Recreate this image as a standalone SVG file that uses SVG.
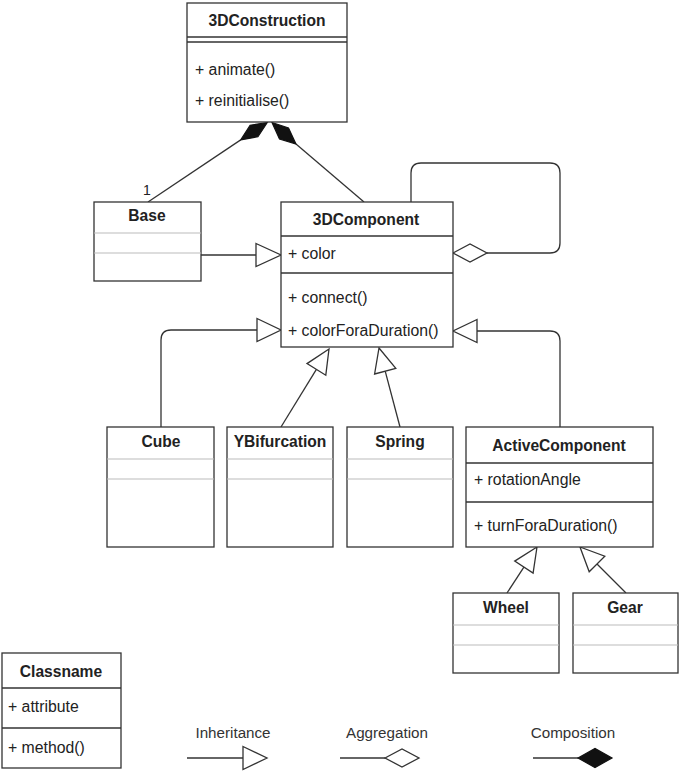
<svg xmlns="http://www.w3.org/2000/svg" width="685" height="773" viewBox="0 0 685 773">
<style>
.box{fill:#fff;stroke:#333;stroke-width:1.3}
.sep{stroke:#333;stroke-width:1.3}
.gsep{stroke:#bbb;stroke-width:1.2}
.t{font-family:"Liberation Sans",Arial,sans-serif;font-size:15.6px;fill:#222;font-weight:bold;text-anchor:middle}
.m{font-family:"Liberation Sans",Arial,sans-serif;font-size:15.8px;fill:#222}
.lg{font-family:"Liberation Sans",Arial,sans-serif;font-size:15.2px;fill:#333;text-anchor:middle}
.ln{fill:none;stroke:#333;stroke-width:1.3}
.tri{fill:#fff;stroke:#333;stroke-width:1.3;stroke-linejoin:miter}
.dia{fill:#fff;stroke:#333;stroke-width:1.3}
.cdia{fill:#111;stroke:#111;stroke-width:1.2}
</style>
<rect width="685" height="773" fill="#fff"/>

<g id="connectors">
  <!-- Base -> 3DComponent -->
  <line class="ln" x1="201" y1="255" x2="256" y2="255"/>
  <polygon class="tri" points="256,243.5 281,255 256,266.5"/>
  <!-- Cube -> 3DComponent -->
  <path class="ln" d="M161,427 V340 Q161,330 171,330 H257"/>
  <polygon class="tri" points="257,318.5 281,330 257,341.5"/>
  <!-- YBifurcation -> 3DComponent -->
  <line class="ln" x1="281" y1="427" x2="316.4" y2="369.4"/>
  <polygon class="tri" points="329,349 325.8,375.2 307,363.6"/>
  <!-- Spring -> 3DComponent -->
  <line class="ln" x1="400" y1="427" x2="385.2" y2="371.2"/>
  <polygon class="tri" points="379,348 395.8,368.4 374.6,374"/>
  <!-- ActiveComponent -> 3DComponent -->
  <path class="ln" d="M560,427 V341 Q560,331 550,331 H477"/>
  <polygon class="tri" points="477,319.5 453,331 477,342.5"/>
  <!-- self aggregation -->
  <path class="ln" d="M411,202 V173 Q411,163 421,163 H550 Q560,163 560,173 V243 Q560,253 550,253 H487"/>
  <polygon class="dia" points="453,253 470,244 487,253 470,262"/>
  <!-- composition Base -> 3DConstruction -->
  <line class="ln" x1="148" y1="202" x2="240.7" y2="139.9"/>
  <polygon class="cdia" points="267.3,122.5 257.9,136.8 240.7,139.9 250.1,125.2"/>
  <text class="m" x="143" y="195" style="font-size:14px">1</text>
  <!-- composition 3DComponent -> 3DConstruction -->
  <line class="ln" x1="364" y1="202" x2="296" y2="144"/>
  <polygon class="cdia" points="272,122.5 288.5,128 296,144 279.5,139"/>
  <!-- Wheel -> ActiveComponent -->
  <line class="ln" x1="507" y1="593" x2="523.9" y2="567.1"/>
  <polygon class="tri" points="537,547 533.1,573.1 514.7,561.1"/>
  <!-- Gear -> ActiveComponent -->
  <line class="ln" x1="626" y1="593" x2="597" y2="564"/>
  <polygon class="tri" points="580,547 604.8,556.2 589.2,571.8"/>
</g>

<g id="n3DConstruction">
  <rect class="box" x="187" y="3" width="160" height="119"/>
  <line class="sep" x1="187" y1="37" x2="347" y2="37"/>
  <line class="sep" x1="187" y1="42" x2="347" y2="42"/>
  <text class="t" x="267" y="26">3DConstruction</text>
  <text class="m" x="195" y="75">+ animate()</text>
  <text class="m" x="195" y="106">+ reinitialise()</text>
</g>

<g id="nBase">
  <rect class="box" x="94" y="202" width="107" height="79"/>
  <line class="gsep" x1="94" y1="233" x2="201" y2="233"/>
  <line class="gsep" x1="94" y1="253" x2="201" y2="253"/>
  <text class="t" x="147" y="221">Base</text>
</g>

<g id="n3DComponent">
  <rect class="box" x="281" y="202" width="172" height="145"/>
  <line class="sep" x1="281" y1="236" x2="453" y2="236"/>
  <line class="sep" x1="281" y1="273" x2="453" y2="273"/>
  <text class="t" x="366" y="225">3DComponent</text>
  <text class="m" x="288" y="259">+ color</text>
  <text class="m" x="288" y="303">+ connect()</text>
  <text class="m" x="288" y="336">+ colorForaDuration()</text>
</g>

<g id="nCube">
  <rect class="box" x="107" y="427" width="107" height="120"/>
  <line class="gsep" x1="107" y1="459" x2="214" y2="459"/>
  <line class="gsep" x1="107" y1="479" x2="214" y2="479"/>
  <text class="t" x="161" y="447">Cube</text>
</g>

<g id="nYBifurcation">
  <rect class="box" x="227" y="427" width="106" height="120"/>
  <line class="gsep" x1="227" y1="459" x2="333" y2="459"/>
  <line class="gsep" x1="227" y1="479" x2="333" y2="479"/>
  <text class="t" x="280" y="447">YBifurcation</text>
</g>

<g id="nSpring">
  <rect class="box" x="347" y="427" width="106" height="120"/>
  <line class="gsep" x1="347" y1="459" x2="453" y2="459"/>
  <line class="gsep" x1="347" y1="479" x2="453" y2="479"/>
  <text class="t" x="400" y="447">Spring</text>
</g>

<g id="nActiveComponent">
  <rect class="box" x="466" y="427" width="187" height="120"/>
  <line class="sep" x1="466" y1="463" x2="653" y2="463"/>
  <line class="sep" x1="466" y1="502" x2="653" y2="502"/>
  <text class="t" x="559" y="451">ActiveComponent</text>
  <text class="m" x="474" y="485">+ rotationAngle</text>
  <text class="m" x="474" y="531">+ turnForaDuration()</text>
</g>

<g id="nWheel">
  <rect class="box" x="453" y="593" width="106" height="80"/>
  <line class="gsep" x1="453" y1="625" x2="559" y2="625"/>
  <line class="gsep" x1="453" y1="645" x2="559" y2="645"/>
  <text class="t" x="506" y="613">Wheel</text>
</g>

<g id="nGear">
  <rect class="box" x="573" y="593" width="105" height="80"/>
  <line class="gsep" x1="573" y1="625" x2="678" y2="625"/>
  <line class="gsep" x1="573" y1="645" x2="678" y2="645"/>
  <text class="t" x="625" y="613">Gear</text>
</g>

<g id="legend">
  <g id="nClassname">
    <rect class="box" x="2" y="653" width="119" height="115"/>
    <line class="sep" x1="2" y1="688" x2="121" y2="688"/>
    <line class="sep" x1="2" y1="728" x2="121" y2="728"/>
    <text class="t" x="61" y="677">Classname</text>
    <text class="m" x="8" y="712">+ attribute</text>
    <text class="m" x="8" y="753">+ method()</text>
  </g>
  <g id="lgInheritance">
    <text class="lg" x="233" y="738">Inheritance</text>
    <line class="ln" x1="187" y1="758" x2="243" y2="758"/>
    <polygon class="tri" points="243,746.5 267,758 243,769.5"/>
  </g>
  <g id="lgAggregation">
    <text class="lg" x="387" y="738">Aggregation</text>
    <line class="ln" x1="340" y1="758" x2="385" y2="758"/>
    <polygon class="dia" points="385,758 402,749 419,758 402,767"/>
  </g>
  <g id="lgComposition">
    <text class="lg" x="573" y="738">Composition</text>
    <line class="ln" x1="533" y1="758" x2="578" y2="758"/>
    <polygon class="cdia" points="578,758 595,748.5 612,758 595,767.5"/>
  </g>
</g>
</svg>
